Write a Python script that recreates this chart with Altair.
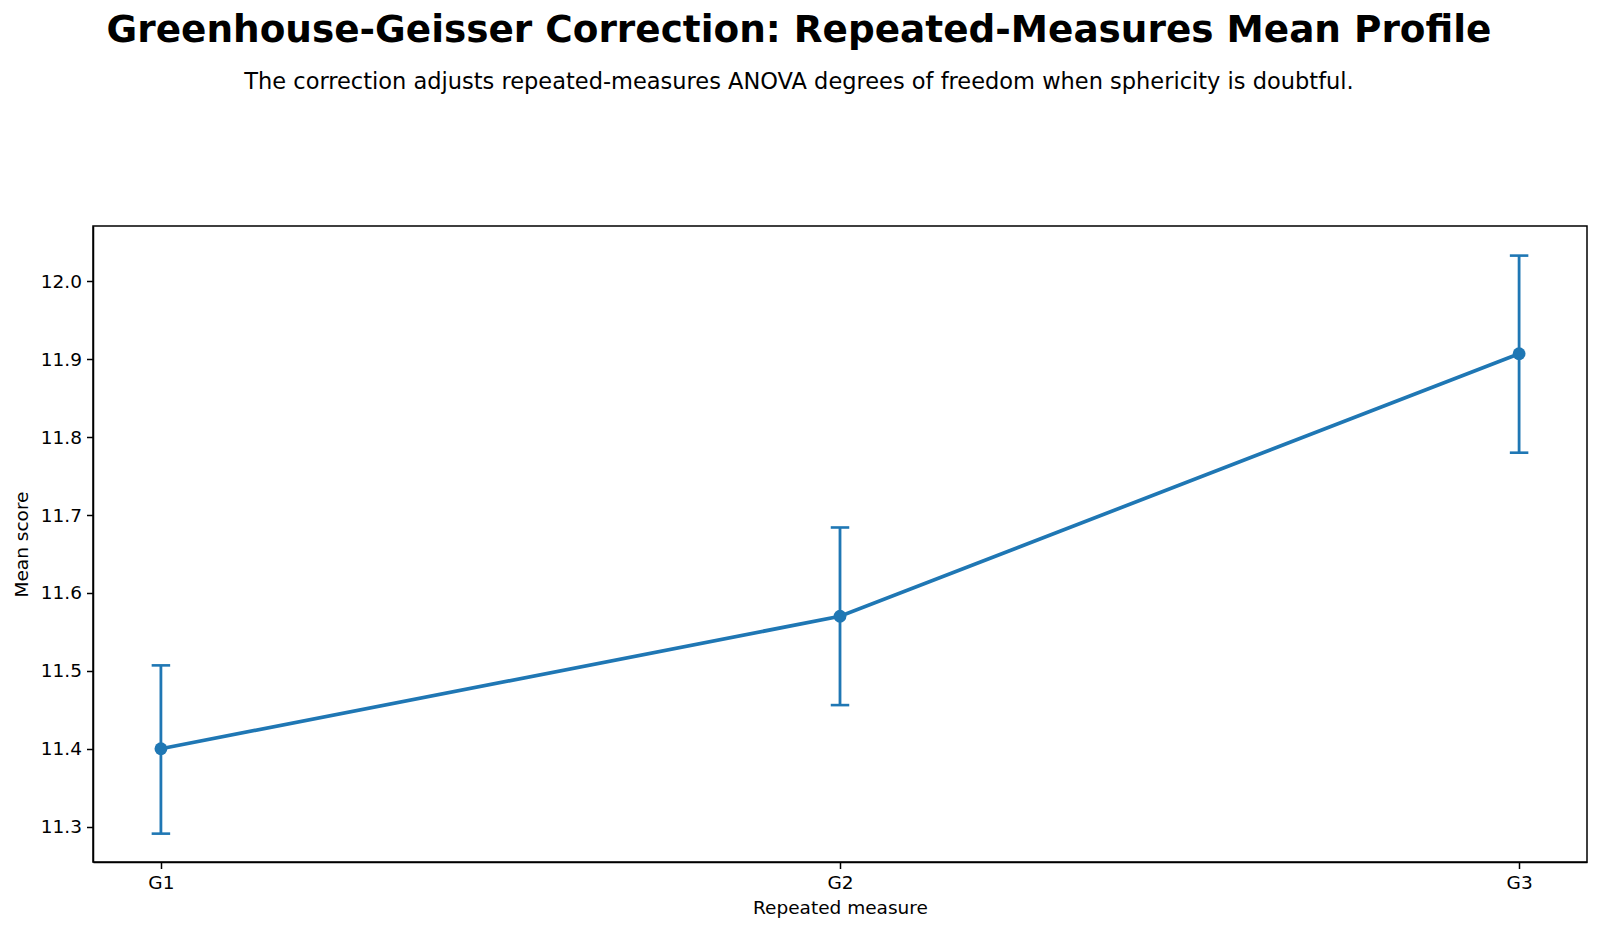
import altair as alt
import pandas as pd

measures = ["G1", "G2", "G3"]
means = [11.400, 11.570, 11.907]
lower = [11.291, 11.456, 11.780]
upper = [11.507, 11.684, 12.033]
y_ticks = [11.3, 11.4, 11.5, 11.6, 11.7, 11.8, 11.9, 12.0]

df = pd.DataFrame({"measure": measures, "mean": means, "lo": lower, "hi": upper})

BLUE = "#1f77b4"
FONT = "DejaVu Sans"

x_enc = alt.X(
    "measure:O",
    scale=alt.Scale(type="point", padding=0.1),
    sort=measures,
    axis=alt.Axis(
        title="Repeated measure",
        labelAngle=0,
        labelFontSize=18.5,
        titleFontSize=18.5,
        titleFontWeight="normal",
        labelColor="black",
        titleColor="black",
        tickColor="black",
        tickSize=6.5,
        tickWidth=1.5,
        labelPadding=5,
        titlePadding=6,
        domainColor="black",
        domainWidth=1.5,
        grid=False,
    ),
)
y_scale = alt.Scale(domain=[11.2546, 12.071], nice=False, zero=False)
y_axis = alt.Axis(
    title="Mean score",
    values=y_ticks,
    format=".1f",
    labelFontSize=18.5,
    titleFontSize=18.5,
    titleFontWeight="normal",
    labelColor="black",
    titleColor="black",
    tickColor="black",
    tickSize=6.5,
    tickWidth=1.5,
    labelPadding=5,
    titlePadding=9,
    domainColor="black",
    domainWidth=1.5,
    grid=False,
)

base = alt.Chart(df)

err = base.mark_rule(color=BLUE, strokeWidth=2.8).encode(
    x=x_enc, y=alt.Y("lo:Q", scale=y_scale, axis=y_axis), y2="hi:Q"
)
cap_lo = base.mark_tick(color=BLUE, size=18.5, thickness=2.6, opacity=1).encode(
    x=x_enc, y=alt.Y("lo:Q", scale=y_scale)
)
cap_hi = base.mark_tick(color=BLUE, size=18.5, thickness=2.6, opacity=1).encode(
    x=x_enc, y=alt.Y("hi:Q", scale=y_scale)
)
line = base.mark_line(color=BLUE, strokeWidth=3.7).encode(
    x=x_enc, y=alt.Y("mean:Q", scale=y_scale)
)
pts = base.mark_circle(color=BLUE, size=165, opacity=1).encode(
    x=x_enc, y=alt.Y("mean:Q", scale=y_scale)
)

chart = (
    alt.layer(err, cap_lo, cap_hi, line, pts)
    .properties(
        width=1494,
        height=636,
        autosize=alt.AutoSizeParams(type="none"),
        padding={"left": 93, "top": 226, "right": 13, "bottom": 70},
        background="white",
        view=alt.ViewBackground(stroke="#000000", strokeWidth=1.5, strokeOpacity=1),
        title=alt.TitleParams(
            text="Greenhouse-Geisser Correction: Repeated-Measures Mean Profile",
            subtitle="The correction adjusts repeated-measures ANOVA degrees of freedom when sphericity is doubtful.",
            font=FONT,
            fontSize=37.4,
            fontWeight="bold",
            color="black",
            subtitleFont=FONT,
            subtitleFontSize=22.5,
            subtitleColor="black",
            subtitlePadding=21,
            anchor="middle",
            dx=-41,
            offset=133,
        ),
    )
    .configure_view(stroke="#000000", strokeWidth=1.5, strokeOpacity=1)
    .configure(font=FONT)
    .configure_axis(labelFont=FONT, titleFont=FONT)
)

chart.save("out.html", embed_options={"renderer": "svg", "actions": False})
